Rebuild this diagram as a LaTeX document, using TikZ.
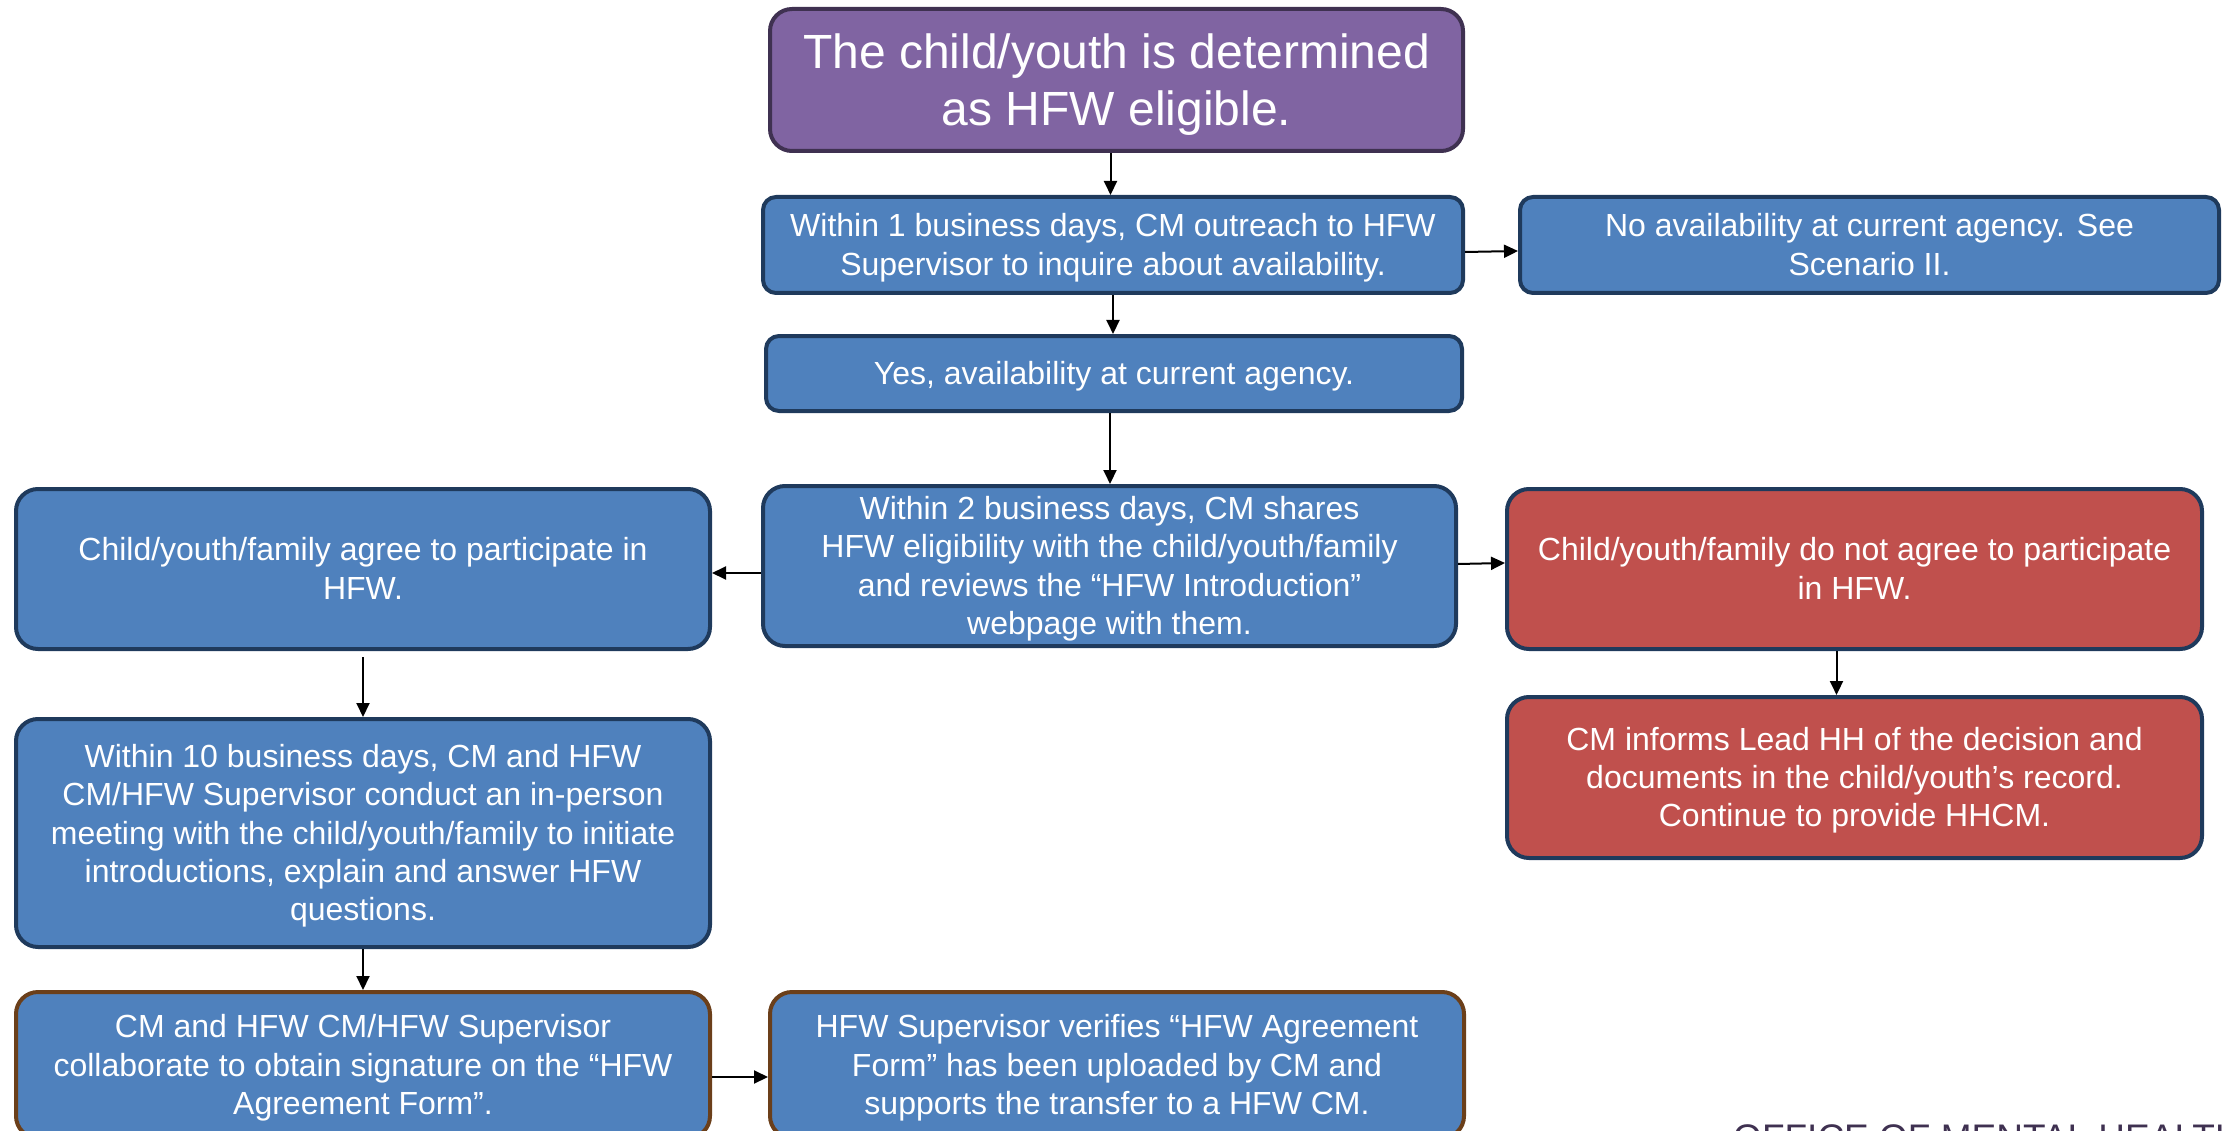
\documentclass[tikz,border=0pt]{standalone}
\usepackage{fontspec}
\setmainfont{Liberation Sans}
\usetikzlibrary{arrows.meta}
\definecolor{boxblue}{HTML}{4F81BD}
\definecolor{navyline}{HTML}{1F3A5C}
\definecolor{boxred}{HTML}{C0504D}
\definecolor{boxpurple}{HTML}{8064A2}
\definecolor{purpleline}{HTML}{3F3151}
\definecolor{brownline}{HTML}{6B3F1A}
\newcommand{\ls}{\rule[-0.212em]{0pt}{1.117em}}
\begin{document}
\begin{tikzpicture}[x=1pt,y=-1pt,
  basebox/.style={line width=4pt, text=white, align=center, inner sep=0pt,
    font=\fontsize{32}{38.3}\selectfont},
  bluebox/.style={basebox, draw=navyline, fill=boxblue, rounded corners=22pt},
  flatbox/.style={basebox, draw=navyline, fill=boxblue, rounded corners=13pt},
  redbox/.style={basebox, draw=navyline, fill=boxred, rounded corners=22pt},
  brownbox/.style={basebox, draw=brownline, fill=boxblue, rounded corners=22pt},
  topbox/.style={basebox, draw=purpleline, fill=boxpurple, rounded corners=22pt,
    font=\fontsize{48}{57}\selectfont},
  arr/.style={-{Triangle[length=14pt,width=13pt]}, line width=2pt, black}
]
\useasboundingbox (0,0) rectangle (2223,1131);

\node[topbox, minimum width=693pt, minimum height=142pt] (top) at (1116.5,80)
  {\ls The child/youth is determined\\\ls as HFW eligible.};
\node[flatbox, minimum width=700pt, minimum height=96pt] (w1) at (1113,245)
  {\ls Within 1 business days, CM outreach to HFW\\\ls Supervisor to inquire about availability.};
\node[flatbox, minimum width=699pt, minimum height=96pt] (noav) at (1869.5,245)
  {\ls No availability at current agency. See\\\ls Scenario II.};
\node[flatbox, minimum width=696pt, minimum height=75pt] (yes) at (1114,373.5)
  {\ls Yes, availability at current agency.};
\node[bluebox, minimum width=693pt, minimum height=160pt] (w2) at (1109.5,566)
  {\ls Within 2 business days, CM shares\\\ls HFW eligibility with the child/youth/family\\\ls and reviews the “HFW Introduction”\\\ls webpage with them.};
\node[bluebox, minimum width=694pt, minimum height=160pt] (agree) at (363,569)
  {\ls Child/youth/family agree to participate in\\\ls HFW.};
\node[redbox, minimum width=695pt, minimum height=160pt] (notagree) at (1854.5,569)
  {\ls Child/youth/family do not agree to participate\\\ls in HFW.};
\node[redbox, minimum width=695pt, minimum height=161pt] (inform) at (1854.5,777.5)
  {\ls CM informs Lead HH of the decision and\\\ls documents in the child/youth’s record.\\\ls Continue to provide HHCM.};
\node[bluebox, minimum width=694pt, minimum height=228pt] (w10) at (363,833)
  {\ls Within 10 business days, CM and HFW\\\ls CM/HFW Supervisor conduct an in-person\\\ls meeting with the child/youth/family to initiate\\\ls introductions, explain and answer HFW\\\ls questions.};
\node[brownbox, minimum width=694pt, minimum height=146pt] (collab) at (363,1065)
  {\ls CM and HFW CM/HFW Supervisor\\\ls collaborate to obtain signature on the “HFW\\\ls Agreement Form”.};
\node[brownbox, minimum width=694pt, minimum height=146pt] (verify) at (1117,1065)
  {\ls HFW Supervisor verifies “HFW Agreement\\\ls Form” has been uploaded by CM and\\\ls supports the transfer to a HFW CM.};

\node[anchor=base west, inner sep=0pt, text=purpleline,
  font=\fontsize{37}{40}\selectfont] (office) at (1733,1150) {OFFICE OF MENTAL HEALTH};

\draw[arr] ([xshift=-6pt]top.south) -- ([xshift=-6pt]top.south |- w1.north);
\draw[arr] (w1.south) -- (w1.south |- yes.north);
\draw[arr] ([yshift=-7pt]w1.east) -- ([yshift=-6pt]noav.west);
\draw[arr] ([xshift=-4pt]yes.south) -- ([xshift=-4pt]yes.south |- w2.north);
\draw[arr] ([yshift=-7pt]w2.west) -- ([yshift=-7pt]w2.west -| agree.east);
\draw[arr] ([yshift=2pt]w2.east) -- ([yshift=6pt]notagree.west);
\draw[arr] ([yshift=-6pt]agree.south) -- (agree.south |- w10.north);
\draw[arr] ([xshift=-18pt]notagree.south) -- ([xshift=-18pt]notagree.south |- inform.north);
\draw[arr] (w10.south) -- (w10.south |- collab.north);
\draw[arr] ([yshift=-12pt]collab.east) -- ([yshift=-12pt]collab.east -| verify.west);
\end{tikzpicture}
\end{document}
